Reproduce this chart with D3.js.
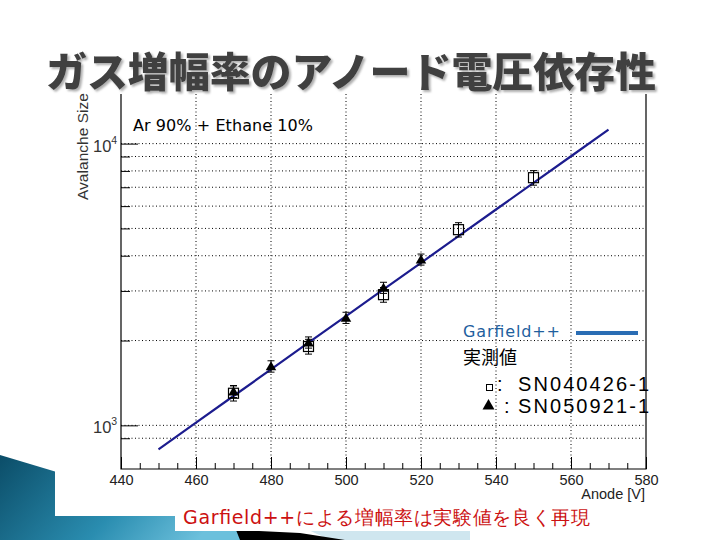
<!DOCTYPE html>
<html>
<head>
<meta charset="utf-8">
<script src="https://cdn.jsdelivr.net/npm/d3@7"></script>
<style>
  body { margin: 0; background: #fff; }
  svg { display: block; }
</style>
</head>
<body>
<div id="chart"></div>
<script>
// Garfield++ シミュレーション (線)
const simVolt = [450, 460, 470, 480, 490, 500, 510, 520, 530, 540, 550, 560, 570];
const simGain = [822, 1022, 1271, 1580, 1965, 2443, 3037, 3776, 4694, 5836, 7256, 9020, 11215];

// 実測値 SN040426-1 (□)
const sqVolt = [470, 490, 510, 530, 550];
const sqGain = [1300, 1905, 2910, 4950, 7570];
const sqErr = [80, 115, 175, 290, 450];

// 実測値 SN050921-1 (▲)
const triVolt = [470, 480, 490, 500, 510, 520];
const triGain = [1320, 1620, 1970, 2410, 3080, 3880];
const triErr = [65, 75, 90, 110, 140, 175];

// 軸
const xMajor = [440, 460, 480, 500, 520, 540, 560, 580];
const xGrid = [460, 480, 500, 520, 540, 560];
const yMajor = [1000, 10000];
const yMinor = [900, 2000, 3000, 4000, 5000, 6000, 7000, 8000, 9000];

const W = 720, H = 540;
const svg = d3.select('#chart').append('svg')
  .attr('width', W)
  .attr('height', H);

// --- 背景の飾り (スライドのテンプレート) ---
const defs = svg.append('defs');
const grad = defs.append('linearGradient').attr('id', 'teal')
  .attr('x1', 0).attr('y1', 0).attr('x2', 1).attr('y2', 0.3);
grad.append('stop').attr('offset', '0%').attr('stop-color', '#0b4d68');
grad.append('stop').attr('offset', '60%').attr('stop-color', '#2a8db0');
grad.append('stop').attr('offset', '100%').attr('stop-color', '#6cc0dc');

const shadow = defs.append('filter').attr('id', 'shadow')
  .attr('x', '-5%').attr('y', '-20%').attr('width', '110%').attr('height', '140%');
shadow.append('feDropShadow')
  .attr('dx', 2).attr('dy', 2).attr('stdDeviation', 1.2)
  .attr('flood-color', '#999').attr('flood-opacity', 0.8);

svg.append('polygon')
  .attr('points', '0,455 250,530 250,540 0,540')
  .attr('fill', 'url(#teal)');
svg.append('polygon')
  .attr('points', '300,526 470,528 470,540 330,540')
  .attr('fill', '#cfe6ef');
svg.append('polygon')
  .attr('points', '236,530 300,533 345,540 240,540')
  .attr('fill', '#000');

// 図の白い部分
svg.append('rect').attr('x', 55).attr('y', 0).attr('width', W - 55).attr('height', 516).attr('fill', '#fff');
svg.append('rect').attr('x', 175).attr('y', 490).attr('width', 450).attr('height', 41).attr('fill', '#fff');

// --- スケール ---
const x = d3.scaleLinear().domain([440, 580]).range([121, 646]);
const y = d3.scaleLog().domain([700, 15000]).range([469, 94]);

const plot = svg.append('g');

// グリッド
plot.append('g').selectAll('line')
  .data(yMajor.concat(yMinor))
  .enter().append('line')
  .attr('x1', x(440)).attr('x2', x(580))
  .attr('y1', d => y(d)).attr('y2', d => y(d))
  .attr('stroke', '#000').attr('stroke-width', 1)
  .attr('stroke-dasharray', '1,2.5');

plot.append('g').selectAll('line')
  .data(xGrid)
  .enter().append('line')
  .attr('x1', d => x(d)).attr('x2', d => x(d))
  .attr('y1', 94).attr('y2', 469)
  .attr('stroke', '#000').attr('stroke-width', 1)
  .attr('stroke-dasharray', '1,2.5');

// 軸の目盛り
const xMinorAxis = d3.axisBottom(x).tickValues(d3.range(440, 581, 5)).tickSize(-6).tickFormat('');
const xMajorAxis = d3.axisBottom(x).tickValues(xMajor).tickSize(-12).tickPadding(6).tickFormat(d3.format('d'));
const yMinorAxis = d3.axisLeft(y).tickValues(yMinor).tickSize(-9).tickFormat('');
const yMajorAxis = d3.axisLeft(y).tickValues(yMajor).tickSize(-17).tickFormat('');

[xMinorAxis, xMajorAxis].forEach(ax => {
  const g = plot.append('g').attr('transform', 'translate(0,469)').call(ax);
  g.select('.domain').remove();
  g.selectAll('.tick line').attr('stroke', '#000');
  g.selectAll('text')
    .attr('font-family', 'Liberation Sans, Arial, sans-serif')
    .attr('font-size', 14.5)
    .attr('fill', '#222');
});
[yMinorAxis, yMajorAxis].forEach(ax => {
  const g = plot.append('g').attr('transform', 'translate(121,0)').call(ax);
  g.select('.domain').remove();
  g.selectAll('.tick line').attr('stroke', '#000');
});

// 10^n ラベル
const yLab = plot.append('g').selectAll('text')
  .data(yMajor)
  .enter().append('text')
  .attr('x', 93)
  .attr('y', d => y(d) + 8)
  .attr('font-family', 'Liberation Sans, Arial, sans-serif')
  .attr('font-size', 16.5)
  .attr('fill', '#333');
yLab.append('tspan').text('10');
yLab.append('tspan')
  .attr('dy', -8)
  .attr('font-size', 10.5)
  .text(d => Math.round(Math.log10(d)));

// 枠
plot.append('path')
  .attr('d', `M${x(440)},94 V469 H${x(580)} V94`)
  .attr('fill', 'none')
  .attr('stroke', '#000')
  .attr('stroke-width', 1.2);

// 軸タイトル
svg.append('text')
  .attr('transform', 'translate(88,93) rotate(-90)')
  .attr('text-anchor', 'end')
  .attr('font-family', 'Liberation Sans, Arial, sans-serif')
  .attr('font-size', 15.5)
  .attr('textLength', 107)
  .attr('fill', '#333')
  .text('Avalanche Size');

svg.append('text')
  .attr('x', 645).attr('y', 499)
  .attr('text-anchor', 'end')
  .attr('font-family', 'Liberation Sans, Arial, sans-serif')
  .attr('font-size', 14.5)
  .attr('fill', '#222')
  .text('Anode [V]');

// --- Garfield++ 線 ---
const line = d3.line()
  .x((d, i) => x(simVolt[i]))
  .y(d => y(d));
plot.append('path')
  .datum(simGain)
  .attr('d', line)
  .attr('fill', 'none')
  .attr('stroke', '#1c1c8e')
  .attr('stroke-width', 2.2);

// --- 誤差棒 ---
function drawErrors(volts, gains, errs) {
  const g = plot.append('g').attr('stroke', '#000').attr('stroke-width', 1);
  volts.forEach((v, i) => {
    const cx = x(v);
    const y1 = y(gains[i] + errs[i]);
    const y2 = y(gains[i] - errs[i]);
    g.append('line').attr('x1', cx).attr('x2', cx).attr('y1', y1).attr('y2', y2);
    g.append('line').attr('x1', cx - 3.5).attr('x2', cx + 3.5).attr('y1', y1).attr('y2', y1);
    g.append('line').attr('x1', cx - 3.5).attr('x2', cx + 3.5).attr('y1', y2).attr('y2', y2);
  });
}
drawErrors(sqVolt, sqGain, sqErr);
drawErrors(triVolt, triGain, triErr);

// □
plot.append('g').selectAll('rect')
  .data(sqGain)
  .enter().append('rect')
  .attr('x', (d, i) => x(sqVolt[i]) - 5)
  .attr('y', d => y(d) - 5)
  .attr('width', 10).attr('height', 10)
  .attr('fill', 'none')
  .attr('stroke', '#000')
  .attr('stroke-width', 1.2);

// ▲
const tri = d3.symbol().type(d3.symbolTriangle).size(48);
plot.append('g').selectAll('path')
  .data(triGain)
  .enter().append('path')
  .attr('d', tri)
  .attr('transform', (d, i) => `translate(${x(triVolt[i])},${y(d) + 1})`)
  .attr('fill', '#000');

// --- テキスト ---
const comic = '"Comic Sans MS", "DejaVu Sans", sans-serif';
svg.append('text')
  .attr('x', 133).attr('y', 131)
  .attr('font-family', comic)
  .attr('font-size', 16)
  .attr('textLength', 180)
  .attr('fill', '#000')
  .text('Ar 90% + Ethane 10%');

// 凡例
const leg = svg.append('g');
leg.append('text')
  .attr('x', 463).attr('y', 337)
  .attr('font-family', comic)
  .attr('font-size', 16)
  .attr('textLength', 97)
  .attr('fill', '#1f5f9e')
  .text('Garfield++');
leg.append('line')
  .attr('x1', 576).attr('x2', 638)
  .attr('y1', 333).attr('y2', 333)
  .attr('stroke', '#2a6db4')
  .attr('stroke-width', 4);
leg.append('text')
  .attr('x', 463).attr('y', 364)
  .attr('font-family', '"Noto Sans CJK JP", sans-serif')
  .attr('font-size', 18)
  .attr('fill', '#000')
  .text('実測値');
leg.append('rect')
  .attr('x', 486.5).attr('y', 384.5)
  .attr('width', 6).attr('height', 6)
  .attr('fill', '#fff')
  .attr('stroke', '#000')
  .attr('stroke-width', 1);
leg.append('path')
  .attr('d', d3.symbol().type(d3.symbolTriangle).size(62))
  .attr('transform', 'translate(488.5,406)')
  .attr('fill', '#000');

const legRows = [
  { colonX: 497, y: 391, label: 'SN040426-1' },
  { colonX: 504, y: 413, label: 'SN050921-1' }
];
legRows.forEach(r => {
  leg.append('text')
    .attr('x', r.colonX).attr('y', r.y)
    .attr('font-family', 'Liberation Sans, Arial, sans-serif')
    .attr('font-size', 20)
    .text(':');
  leg.append('text')
    .attr('x', 518).attr('y', r.y)
    .attr('font-family', 'Liberation Sans, Arial, sans-serif')
    .attr('font-size', 20)
    .attr('textLength', 131)
    .text(r.label);
});

// タイトル
svg.append('text')
  .attr('x', 46).attr('y', 87)
  .attr('font-family', '"Noto Sans CJK JP", sans-serif')
  .attr('font-weight', 900)
  .attr('font-size', 41)
  .attr('textLength', 610)
  .attr('fill', '#404040')
  .attr('filter', 'url(#shadow)')
  .text('ガス増幅率のアノード電圧依存性');

// 結論
svg.append('text')
  .attr('x', 183).attr('y', 524)
  .attr('font-family', comic)
  .attr('font-size', 19)
  .attr('textLength', 407)
  .attr('fill', '#cc1111')
  .text('Garfield++による増幅率は実験値を良く再現');
</script>
</body>
</html>
